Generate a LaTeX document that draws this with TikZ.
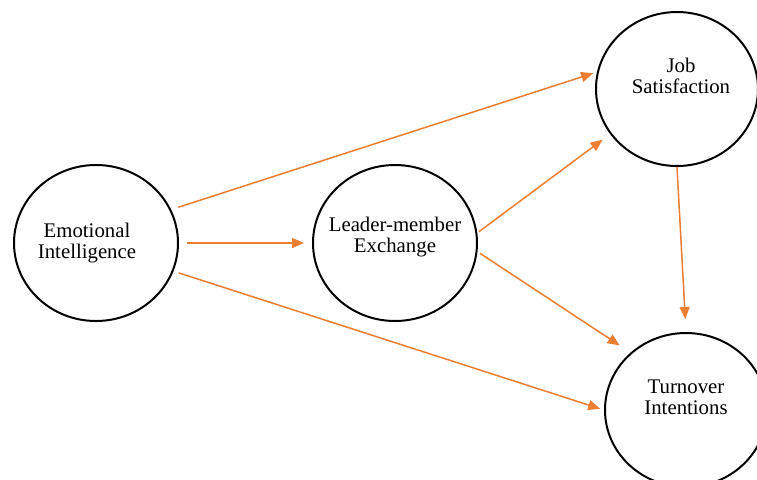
\documentclass[tikz,border=0pt]{standalone}
\usepackage{fontspec}
\setmainfont{Liberation Serif}
\usetikzlibrary{arrows.meta, shapes.geometric}

\definecolor{linkorange}{HTML}{ED7D31}

\begin{document}
\begin{tikzpicture}[
        x=0.5pt, y=-0.5pt,
        construct/.style={ellipse, draw, line width=1pt, minimum width=82pt, minimum height=78pt,
                          inner xsep=-6pt, inner ysep=0pt, align=center, font=\fontsize{10.4}{10.6}\selectfont},
        link/.style={->, draw=linkorange, line width=0.75pt},
        >={Triangle[length=6pt,width=5pt]}
    ]

    \useasboundingbox (0,0) rectangle (757,479);

    % Define the constructs
    \node[construct] (ei) at (96,243) {Emotional\hspace*{9pt}\\Intelligence\hspace*{9pt}};
    \node[construct, text depth=8pt] (lmx) at (395,243) {Leader-member\\Exchange};
    \node[construct, minimum width=81pt, minimum height=77pt, text depth=13pt] (js) at (677,89) {\hspace*{4pt}Job\\\hspace*{4pt}Satisfaction};
    \node[construct, minimum width=81pt, minimum height=77pt, text depth=13pt] (ti) at (686,410) {Turnover\\Intentions};

    % Draw the paths
    \draw[link, shorten <=3.7pt, shorten >=2pt] (ei.24) -- (js.168);
    \draw[link, shorten <=4pt, shorten >=4pt] (ei.east) -- (lmx.west);
    \draw[link, shorten <=2.7pt, shorten >=2pt] (ei.-20) -- (ti.180);

    \draw[link, shorten <=1pt, shorten >=4.7pt] (lmx.7) -- (js.214);
    \draw[link, shorten <=1.5pt, shorten >=6.5pt] (lmx.-6) -- (ti.134);

    \draw[link, shorten >=6.5pt] (js.south) -- (ti.north);
\end{tikzpicture}
\end{document}
